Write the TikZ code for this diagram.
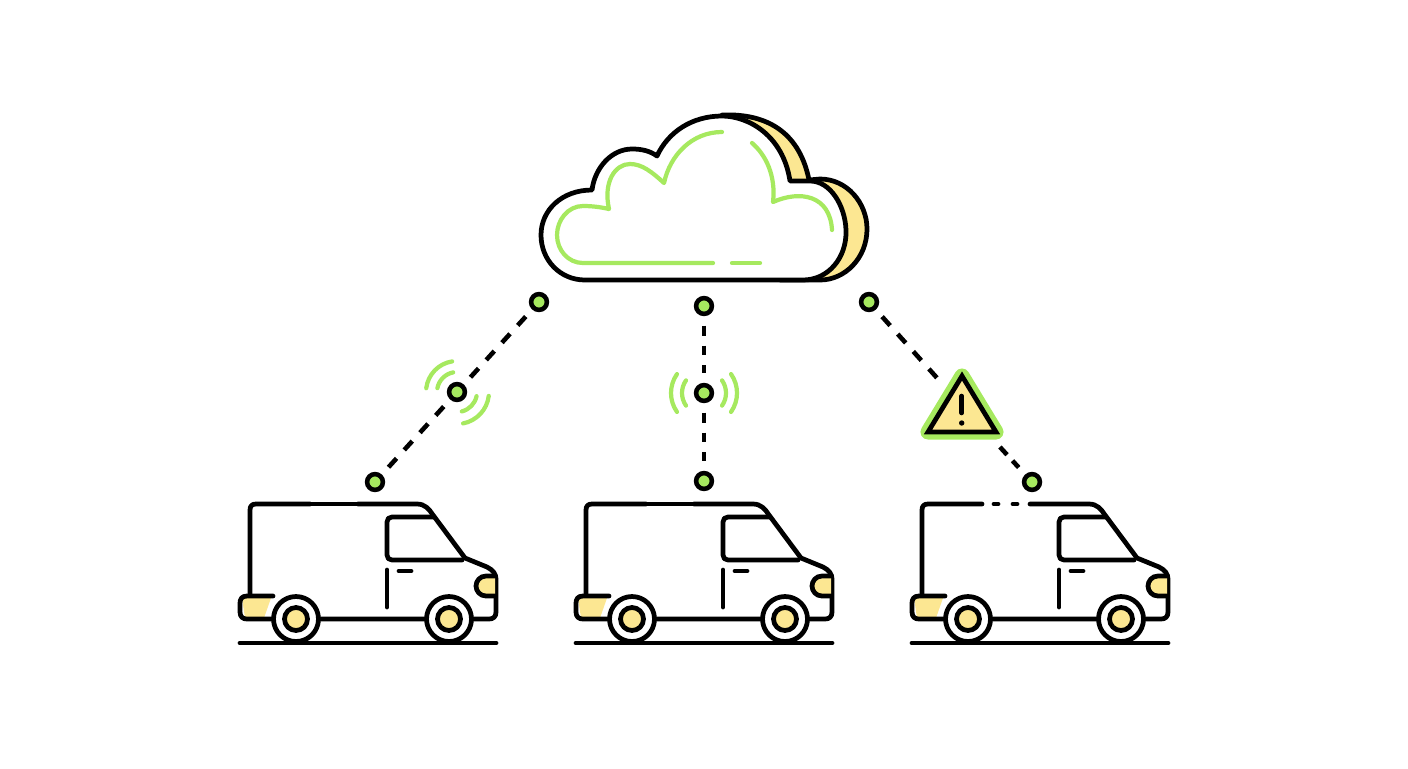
\documentclass[tikz,border=0pt]{standalone}
\usetikzlibrary{arrows.meta,positioning}
\definecolor{leaf}{HTML}{A6E95F}
\definecolor{butter}{HTML}{FCE792}
\tikzset{
  outline/.style={line width=2.7pt,line join=round,line cap=round},
  glow/.style={color=leaf,line width=2.4pt,line join=round,line cap=round},
  dot/.style={circle,draw,fill=leaf,line width=2.6pt,minimum size=9pt,inner sep=0pt},
  link/.style={line width=2.6pt,dash pattern=on 5.6pt off 5.7pt,shorten <=5.4pt,shorten >=5.4pt},
  linkdiag/.style={link,dash pattern=on 6.8pt off 6.5pt},
  van/.pic={
    \fill[butter] (242,598)--(271,598)--(264,618)--(245,618)--cycle;
    \draw[outline] (250,594)--(250,510) .. controls (250,506) and (252,504) .. (256,504)--(310,504);
    \draw[outline] (358,504)--(417,504) .. controls (425,504) and (429,509) .. (433,515)--(465,558)--(487,567) .. controls (493,570) and (496,574) .. (496,579)--(496,612) .. controls (496,617) and (493,619) .. (489,619)--(273,619);
    \draw[outline] (273,596)--(247,596) .. controls (242,596) and (240,599) .. (240,603)--(240,612) .. controls (240,617) and (243,619) .. (247,619)--(273,619);
    \draw[outline] (434,517)--(392,517) .. controls (389,517) and (387,519) .. (387,522)--(387,555) .. controls (387,558) and (389,560) .. (392,560)--(462,560);
    \draw[outline] (387,570)--(387,607);
    \draw[outline] (399,571)--(411,571);
    \draw[outline,fill=butter] (495,576)--(486,576) .. controls (480,576) and (476,581) .. (476,586) .. controls (476,591) and (480,596) .. (486,596)--(495,596);
    \foreach \wheelx in {296,449}{
      \draw[outline,fill=white] (\wheelx,619) circle (22.5);
      \draw[outline,fill=butter] (\wheelx,619) circle (11.5);
    }
    \draw[outline] (240,643)--(496,643);
  }
}
\begin{document}
\begin{tikzpicture}[x=0.02cm,y=-0.02cm]
\useasboundingbox (0,0) rectangle (1408,768);
% cloud
\draw[outline,fill=butter] (722,115) .. controls (770,113) and (800,135) .. (809,180)--(820,179) .. controls (847,179) and (867,203) .. (867,229) .. controls (867,258) and (845,280) .. (820,280)--(780,280)--cycle;
\draw[outline,fill=white] (585,280) .. controls (560,280) and (541,260) .. (541,235) .. controls (541,210) and (562,190) .. (592,190) .. controls (595,167) and (612,149) .. (632,149) .. controls (642,149) and (650,151) .. (657,156) .. controls (668,132) and (692,116) .. (722,116) .. controls (748,116) and (783,135) .. (790,181)--(810,181) .. controls (830,181) and (845,205) .. (846,230) .. controls (847,258) and (828,280) .. (803,280)--cycle;
\draw[glow] (722,132) .. controls (692,132) and (670,155) .. (664,183) .. controls (652,172) and (642,164) .. (630,164) .. controls (615,164) and (603,182) .. (609,209) .. controls (600,207) and (592,206) .. (583,206) .. controls (568,206) and (557,220) .. (557,235) .. controls (557,250) and (568,263) .. (583,263)--(713,263);
\draw[glow] (732,263)--(760,263);
\draw[glow] (752,143) .. controls (766,155) and (776,176) .. (773,202) .. controls (800,190) and (830,195) .. (832,230);
% links
\node[dot] (cloudA) at (539,302) {};
\node[dot] (cloudB) at (704,306) {};
\node[dot] (cloudC) at (869,302) {};
\node[dot] (midA) at (457,392) {};
\node[dot] (midB) at (704,393) {};
\node[dot] (topA) at (375,482) {};
\node[dot] (topB) at (704,481) {};
\node[dot] (topC) at (1032,482) {};
\coordinate (warnIn) at (943.6,385.3);
\coordinate (warnOut) at (993.5,440);
\draw[linkdiag] (cloudA)--(midA);
\draw[linkdiag] (midA)--(topA);
\draw[link] (cloudB)--(midB);
\draw[link] (midB)--(topB);
\draw[linkdiag] (cloudC)--(warnIn);
\draw[linkdiag,dash pattern=on 6pt off 4.6pt] (warnOut)--(topC);
% signal
\draw[glow] (midA) ++(-169:20) arc (-169:-101:20);
\draw[glow] (midA) ++(-173:31) arc (-173:-99:31);
\draw[glow] (midA) ++(12:20) arc (12:76:20);
\draw[glow] (midA) ++(7:32) arc (7:79:32);
\foreach \sigr in {22,33}{
  \draw[glow] (midB) ++(145:\sigr) arc (145:215:\sigr);
  \draw[glow] (midB) ++(-35:\sigr) arc (-35:35:\sigr);
}
% warning
\draw[color=leaf,line width=8.6pt,line join=round] (962,376)--(996,432)--(928,432)--cycle;
\draw[outline,fill=butter,line join=miter] (962,376)--(996,432)--(928,432)--cycle;
\draw[line width=2.6pt,line cap=round] (961.7,396)--(961.7,413);
\fill (961.7,423) circle (2.7);
% vans
\foreach \vanx/\vanname in {0/vanA,336/vanB,672/vanC}{
  \pic (\vanname) at (\vanx,0) {van};
}
\foreach \vanx in {0,336}{
  \draw[outline] (310+\vanx,504)--(358+\vanx,504);
}
\draw[outline] (994,504)--(998,504);
\draw[outline] (1013,504)--(1017,504);
\end{tikzpicture}
\end{document}
